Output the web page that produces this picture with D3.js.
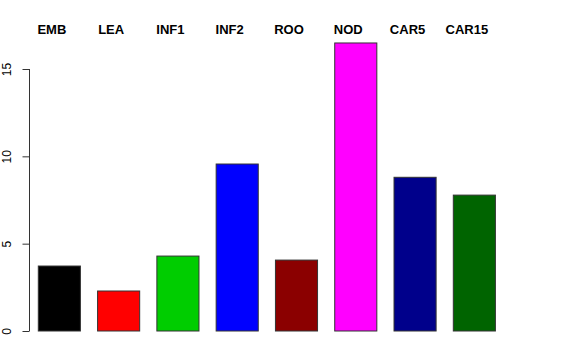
<!DOCTYPE html>
<html>
<head>
<meta charset="utf-8">
<script src="https://cdn.jsdelivr.net/npm/d3@7"></script>
<style>
  body { margin: 0; background: #fff; }
  svg { display: block; }
</style>
</head>
<body>
<div id="app"></div>
<script>
const categories = ['EMB', 'LEA', 'INF1', 'INF2', 'ROO', 'NOD', 'CAR5', 'CAR15']
const values = [3.72, 2.29, 4.29, 9.56, 4.06, 16.49, 8.8, 7.78]
const colors = ['#000000', '#ff0000', '#00cd00', '#0000ff', '#8b0000', '#ff00ff', '#00008b', '#006400']
const yTicks = [0, 5, 10, 15]

const width = 576
const height = 360

const svg = d3.select('#app').append('svg')
  .attr('width', width)
  .attr('height', height)

const x = d3.scaleBand()
  .domain(categories)
  .range([38.3, 495.4])
  .paddingInner(0.29)
  .paddingOuter(0)

const y = d3.scaleLinear()
  .domain([0, 15])
  .range([331, 69])

// bars
svg.selectAll('rect.bar')
  .data(categories)
  .join('rect')
  .attr('class', 'bar')
  .attr('x', (d) => x(d))
  .attr('y', (d, i) => y(values[i]))
  .attr('width', x.bandwidth())
  .attr('height', (d, i) => y(0) - y(values[i]))
  .attr('fill', (d, i) => colors[i])
  .attr('stroke', '#333')
  .attr('stroke-width', 1)

// y axis, R style
const axis = svg.append('g')
  .attr('transform', 'translate(29.5,0)')
  .call(d3.axisLeft(y).tickValues(yTicks).tickSize(7).tickPadding(10))
axis.select('.domain').attr('stroke', '#333').attr('d', `M-7,${y(15)}H0V${y(0)}H-7`)
axis.selectAll('.domain').attr('d', `M0,${y(15)}V${y(0)}`)
axis.selectAll('.tick line').attr('stroke', '#333')
axis.selectAll('.tick text')
  .attr('font-family', 'Liberation Sans, Arial, sans-serif')
  .attr('font-size', 12)
  .attr('fill', '#000')
  .attr('text-anchor', 'middle')
  .attr('x', 0)
  .attr('dy', 0)
  .attr('transform', 'translate(-19,0) rotate(-90)')

// top labels
svg.selectAll('text.lab')
  .data(categories)
  .join('text')
  .attr('class', 'lab')
  .attr('x', (d) => x(d) + x.bandwidth() / 2 - 7.5)
  .attr('y', 34)
  .attr('text-anchor', 'middle')
  .attr('font-family', 'Liberation Sans, Arial, sans-serif')
  .attr('font-weight', 'bold')
  .attr('font-size', 13)
  .text((d) => d)
</script>
</body>
</html>
